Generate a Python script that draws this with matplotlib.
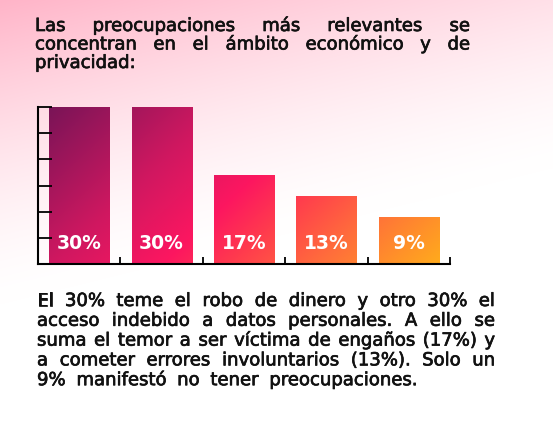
import numpy as np
import matplotlib.pyplot as plt
import matplotlib.patheffects as pe
from matplotlib.colors import LinearSegmentedColormap, to_rgb

# ---- data ----
categories = ['Robo de dinero', 'Acceso a datos', 'Engaños', 'Errores', 'Ninguna']
values = [30, 30, 17, 13, 9]
labels = ['30%', '30%', '17%', '13%', '9%']

title_lines = ['Las preocupaciones más relevantes se',
               'concentran en el ámbito económico y de',
               'privacidad:']
body_lines = ['El 30% teme el robo de dinero y otro 30% el',
              'acceso indebido a datos personales. A ello se',
              'suma el temor a ser víctima de engaños (17%) y',
              'a cometer errores involuntarios (13%). Solo un',
              '9% manifestó no tener preocupaciones.']

W, H = 553, 442
FONT = ['DejaVu Sans']
TXT = '#111111'
thick = [pe.withStroke(linewidth=0.5, foreground=TXT)]

fig = plt.figure(figsize=(W / 100, H / 100), dpi=100)

# background gradient (pink top-left -> white)
bg = fig.add_axes([0, 0, 1, 1], zorder=-10)
yy, xx = np.mgrid[0:H, 0:W]
s = np.clip(1 - yy / 304 - xx / 1234, 0, 1) ** 1.5
pink = np.array(to_rgb('#ffb4c8'))
img = 1 - s[..., None] * (1 - pink)
bg.imshow(img, aspect='auto', extent=[0, W, H, 0])
bg.axis('off')

# bar chart
ax = fig.add_axes([38 / W, (H - 264) / H, 412 / W, 157 / H])
ax.patch.set_alpha(0)
x = np.arange(len(values))
bars = ax.bar(x, values, width=0.73, color='none', zorder=2)
ax.set_xlim(-0.5, len(values) - 0.5)
ax.set_ylim(0, 30)

# one diagonal gradient shared by all bars (purple -> pink -> orange)
cmap = LinearSegmentedColormap.from_list('g', [
    (0.0, '#7a1457'), (0.3, '#cf1860'), (0.5, '#fc1660'),
    (0.62, '#ff3a4e'), (0.78, '#ff6c3c'), (1.0, '#ffab1c')])
gx, gy = np.meshgrid(np.linspace(-0.5, 4.5, 400), np.linspace(30, 0, 200))
t = np.clip(0.148 * (gx + 0.365) + 0.00994 * (30 - gy), 0, 1)
for b in bars:
    im = ax.imshow(t, cmap=cmap, vmin=0, vmax=1, extent=[-0.5, 4.5, 0, 30],
                   aspect='auto', zorder=1, interpolation='bilinear')
    im.set_clip_path(b)

for xi, lab in zip(x, labels):
    ax.text(xi, 3.9, lab, ha='center', va='center', color='white',
            fontsize=13.5, fontweight='bold', family=FONT, zorder=3)

ax.set_yticks(np.arange(0, 31, 5))
ax.set_xticks(np.arange(0.5, len(values), 1))
ax.tick_params(axis='y', direction='in', length=10, width=1.3, labelleft=False)
ax.tick_params(axis='x', direction='in', length=5, width=1.3, labelbottom=False)
for sp in ['top', 'right']:
    ax.spines[sp].set_visible(False)
for sp in ['left', 'bottom']:
    ax.spines[sp].set_linewidth(1.5)

# justified text blocks
renderer = fig.canvas.get_renderer()


def write_line(line, x0, x1, ybase, justify=True, size=13):
    words = line.split()
    ts = [fig.text(0, 1 - ybase / H, w, fontsize=size, family=FONT, color=TXT,
                   va='baseline', path_effects=thick) for w in words]
    widths = [tt.get_window_extent(renderer).width for tt in ts]
    if justify and len(words) > 1:
        gap = (x1 - x0 - sum(widths)) / (len(words) - 1)
    else:
        gap = size * 100 / 72 * 0.6
    pos = x0
    for tt, w in zip(ts, widths):
        tt.set_x(pos / W)
        pos += w + gap


for i, line in enumerate(title_lines):
    write_line(line, 35, 470, 31 + i * 18.5, justify=i < len(title_lines) - 1)
for i, line in enumerate(body_lines):
    write_line(line, 37, 495, 306 + i * 19.8, justify=i < len(body_lines) - 1)

fig.savefig('out.png', dpi=100)
